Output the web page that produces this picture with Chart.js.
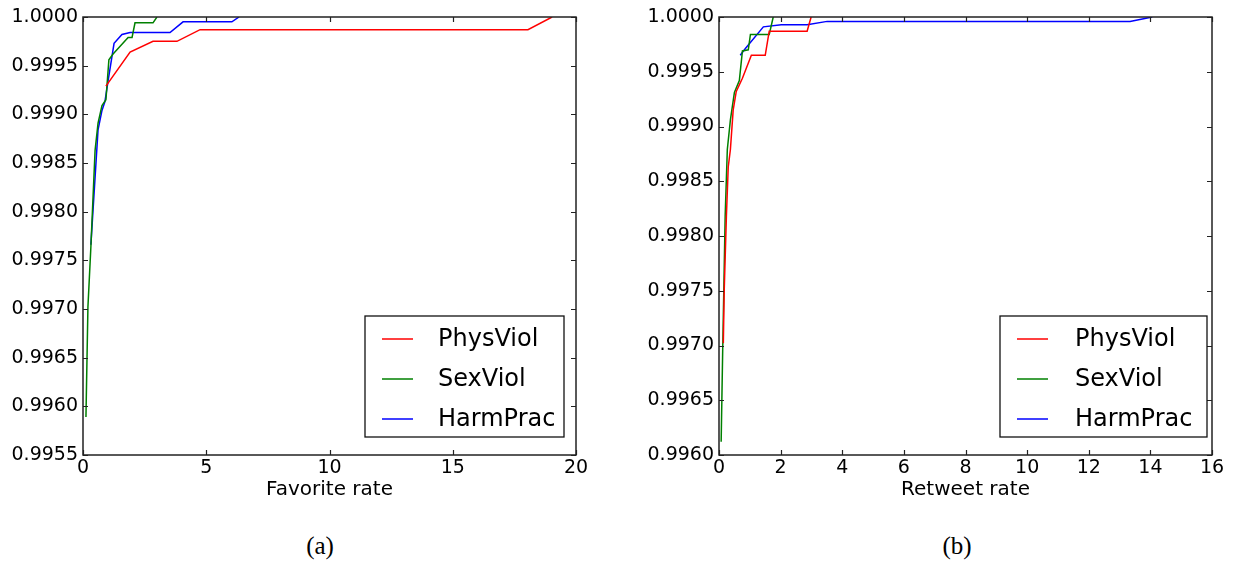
<!DOCTYPE html>
<html>
<head>
<meta charset="utf-8">
<script src="https://cdn.jsdelivr.net/npm/chart.js@4.4.0/dist/chart.umd.min.js"></script>
<style>
  body { margin: 0; background: #fff; width: 1236px; height: 562px; position: relative; overflow: hidden; }
  canvas { position: absolute; top: 0; }
  #favChart { left: 0; }
  #rtChart { left: 618px; }
  .cap { position: absolute; top: 531px; width: 100px; text-align: center;
         font-family: "Liberation Serif", serif; font-size: 25px; line-height: 30px; color: #000; }
</style>
</head>
<body>
<canvas id="favChart" width="618" height="520"></canvas>
<canvas id="rtChart" width="618" height="520"></canvas>
<div class="cap" style="left:270px">(a)</div>
<div class="cap" style="left:907px">(b)</div>
<script>
// ---- Favorite rate panel ----
var favPhysX = [0.93, 1.91, 2.84, 3.81, 4.75, 18.05, 19.03];
var favPhysY = [0.99929, 0.99964, 0.99975, 0.99975, 0.99987, 0.99987, 1.0];
var favSexX  = [0.12, 0.20, 0.32, 0.49, 0.61, 0.77, 0.93, 1.05, 1.22, 1.83, 1.99, 2.11, 2.84, 3.0];
var favSexY  = [0.99589, 0.99702, 0.99764, 0.99863, 0.99891, 0.99909, 0.99915, 0.99956, 0.99962, 0.99979, 0.99979, 0.99994, 0.99994, 1.0];
var favHarmX = [0.32, 0.61, 0.77, 0.89, 1.01, 1.26, 1.58, 1.91, 3.53, 4.06, 6.04, 6.33];
var favHarmY = [0.99766, 0.99884, 0.99904, 0.99913, 0.99933, 0.99973, 0.99982, 0.99984, 0.99984, 0.99995, 0.99995, 1.0];
var favTicksX = [0, 5, 10, 15, 20];
var favTicksY = [0.9955, 0.9960, 0.9965, 0.9970, 0.9975, 0.9980, 0.9985, 0.9990, 0.9995, 1.0000];

// ---- Retweet rate panel ----
var rtPhysX = [0.14, 0.17, 0.24, 0.30, 0.37, 0.46, 0.56, 0.76, 1.05, 1.50, 1.63, 2.86, 2.99];
var rtPhysY = [0.99702, 0.99751, 0.99818, 0.99863, 0.99879, 0.99915, 0.99932, 0.99944, 0.99965, 0.99965, 0.99987, 0.99987, 1.0];
var rtSexX  = [0.07, 0.12, 0.16, 0.20, 0.27, 0.37, 0.50, 0.66, 0.76, 0.95, 1.02, 1.63, 1.76];
var rtSexY  = [0.99612, 0.99696, 0.99757, 0.99818, 0.99879, 0.99906, 0.99931, 0.99942, 0.99969, 0.99970, 0.99984, 0.99984, 1.0];
var rtHarmX = [0.69, 0.85, 1.44, 2.02, 2.86, 3.51, 13.34, 14.06];
var rtHarmY = [0.99965, 0.99971, 0.99991, 0.99993, 0.99993, 0.99996, 0.99996, 1.0];
var rtTicksX = [0, 2, 4, 6, 8, 10, 12, 14, 16];
var rtTicksY = [0.9960, 0.9965, 0.9970, 0.9975, 0.9980, 0.9985, 0.9990, 0.9995, 1.0000];

var seriesNames = ['PhysViol', 'SexViol', 'HarmPrac'];
var seriesColors = ['#ff0000', '#008000', '#0000ff'];

Chart.defaults.font.family = "'DejaVu Sans', sans-serif";
Chart.defaults.color = '#000';

function pairs(xs, ys) {
    return xs.map(function (x, i) { return { x: x, y: ys[i] }; });
}

// frame with inward tick marks on all four sides, drawn over the lines
var framePlugin = {
    id: 'frame',
    afterDatasetsDraw: function (chart) {
        var a = chart.chartArea, c = chart.ctx;
        var xs = chart.scales.x, ys = chart.scales.y;
        c.save();
        c.strokeStyle = '#222';
        c.lineWidth = 1.2;
        c.beginPath();
        xs.ticks.forEach(function (t) {
            var p = Math.round(xs.getPixelForValue(t.value)) + 0.5;
            c.moveTo(p, a.bottom); c.lineTo(p, a.bottom - 5);
            c.moveTo(p, a.top); c.lineTo(p, a.top + 5);
        });
        ys.ticks.forEach(function (t) {
            var p = Math.round(ys.getPixelForValue(t.value)) + 0.5;
            c.moveTo(a.left, p); c.lineTo(a.left + 5, p);
            c.moveTo(a.right, p); c.lineTo(a.right - 5, p);
        });
        c.stroke();
        c.lineWidth = 1.5;
        c.strokeRect(a.left, a.top, a.right - a.left, a.bottom - a.top);
        c.restore();
    }
};

// boxed legend in the lower right corner
var boxLegendPlugin = {
    id: 'boxLegend',
    afterDraw: function (chart, args, opts) {
        var a = chart.chartArea, c = chart.ctx;
        var x0 = a.right - opts.gapRight - opts.width;
        var y0 = a.bottom - opts.gapBottom - opts.height;
        c.save();
        c.fillStyle = '#fff';
        c.fillRect(x0, y0, opts.width, opts.height);
        c.strokeStyle = '#111';
        c.lineWidth = 1.3;
        c.strokeRect(x0, y0, opts.width, opts.height);
        c.font = "24px 'DejaVu Sans'";
        c.textBaseline = 'middle';
        chart.data.datasets.forEach(function (ds, i) {
            var y = y0 + 23 + i * 40;
            c.strokeStyle = ds.borderColor;
            c.lineWidth = 1.5;
            c.beginPath();
            c.moveTo(x0 + 17, y); c.lineTo(x0 + 48, y);
            c.stroke();
            c.fillStyle = '#000';
            c.fillText(ds.label, x0 + opts.textX, y + 1);
        });
        c.restore();
    }
};

function makeChart(id, xsList, ysList, ticksX, ticksY, axisWidth, padRight, xTitle, legendOpts) {
    var datasets = xsList.map(function (xs, i) {
        return {
            label: seriesNames[i],
            data: pairs(xs, ysList[i]),
            borderColor: seriesColors[i],
            borderWidth: 1.5,
            pointRadius: 0,
            tension: 0,
            fill: false
        };
    });
    return new Chart(document.getElementById(id), {
        type: 'line',
        data: { datasets: datasets },
        options: {
            responsive: false,
            animation: false,
            devicePixelRatio: 1,
            layout: { padding: { top: 17, right: padRight, left: 0, bottom: 0 } },
            plugins: {
                legend: { display: false },
                tooltip: { enabled: false },
                boxLegend: legendOpts
            },
            scales: {
                x: {
                    type: 'linear',
                    min: ticksX[0],
                    max: ticksX[ticksX.length - 1],
                    afterBuildTicks: function (s) { s.ticks = ticksX.map(function (v) { return { value: v }; }); },
                    afterFit: function (s) { s.height = 65; },
                    grid: { display: false, drawTicks: false },
                    border: { display: false },
                    ticks: { padding: 2, maxRotation: 0, font: { size: 19 } },
                    title: { display: true, text: xTitle, font: { size: 20 }, padding: { top: 0, bottom: 18 } }
                },
                y: {
                    type: 'linear',
                    min: ticksY[0],
                    max: ticksY[ticksY.length - 1],
                    afterBuildTicks: function (s) { s.ticks = ticksY.map(function (v) { return { value: v }; }); },
                    afterFit: function (s) { s.width = axisWidth; },
                    grid: { display: false, drawTicks: false },
                    border: { display: false },
                    ticks: { padding: 5, font: { size: 19 }, callback: function (v) { return Number(v).toFixed(4); } }
                }
            }
        },
        plugins: [framePlugin, boxLegendPlugin]
    });
}

makeChart('favChart', [favPhysX, favSexX, favHarmX], [favPhysY, favSexY, favHarmY],
    favTicksX, favTicksY, 83, 42, 'Favorite rate',
    { width: 199, height: 121, gapRight: 12, gapBottom: 18, textX: 73 });

makeChart('rtChart', [rtPhysX, rtSexX, rtHarmX], [rtPhysY, rtSexY, rtHarmY],
    rtTicksX, rtTicksY, 101, 24, 'Retweet rate',
    { width: 207, height: 121, gapRight: 5, gapBottom: 18, textX: 75 });
</script>
</body>
</html>
